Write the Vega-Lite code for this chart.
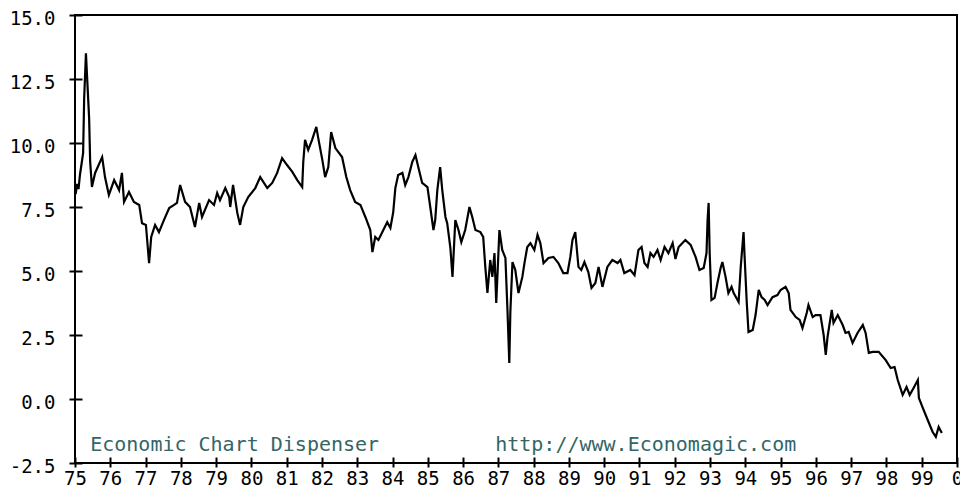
{
  "$schema": "https://vega.github.io/schema/vega-lite/v6.json",
  "width": 882,
  "height": 448,
  "autosize": {"type": "none"},
  "padding": {"left": 75, "top": 15, "right": 3, "bottom": 28},
  "background": "white",
  "config": {
    "view": {"stroke": "black", "strokeWidth": 2},
    "axis": {
      "grid": false,
      "domain": false,
      "tickColor": "black",
      "tickWidth": 2,
      "labelColor": "black",
      "labelFont": "DejaVu Sans Mono",
      "labelFontSize": 19,
      "labelOverlap": false,
      "labelSeparation": 0,
      "title": null
    }
  },
  "datasets": {
    "series": [
      {"year": 75.02, "value": 8.0}, {"year": 75.06, "value": 8.4}, {"year": 75.1, "value": 8.2},
      {"year": 75.14, "value": 8.75}, {"year": 75.23, "value": 9.6}, {"year": 75.26, "value": 11.76},
      {"year": 75.31, "value": 13.5}, {"year": 75.34, "value": 12.66}, {"year": 75.4, "value": 10.98},
      {"year": 75.43, "value": 9.26}, {"year": 75.48, "value": 8.28}, {"year": 75.57, "value": 8.83},
      {"year": 75.77, "value": 9.45}, {"year": 75.85, "value": 8.67}, {"year": 75.96, "value": 7.97},
      {"year": 76.11, "value": 8.55}, {"year": 76.25, "value": 8.16}, {"year": 76.33, "value": 8.83},
      {"year": 76.39, "value": 7.7}, {"year": 76.53, "value": 8.09}, {"year": 76.67, "value": 7.7},
      {"year": 76.82, "value": 7.58}, {"year": 76.9, "value": 6.87}, {"year": 77.01, "value": 6.8},
      {"year": 77.1, "value": 5.31}, {"year": 77.16, "value": 6.33}, {"year": 77.27, "value": 6.8},
      {"year": 77.38, "value": 6.52}, {"year": 77.52, "value": 6.99}, {"year": 77.67, "value": 7.46},
      {"year": 77.81, "value": 7.58}, {"year": 77.89, "value": 7.66}, {"year": 77.98, "value": 8.36},
      {"year": 78.12, "value": 7.7}, {"year": 78.26, "value": 7.5}, {"year": 78.4, "value": 6.72},
      {"year": 78.52, "value": 7.66}, {"year": 78.6, "value": 7.11}, {"year": 78.8, "value": 7.77},
      {"year": 78.94, "value": 7.58}, {"year": 79.03, "value": 8.05}, {"year": 79.11, "value": 7.77},
      {"year": 79.26, "value": 8.24}, {"year": 79.37, "value": 7.89}, {"year": 79.4, "value": 7.5},
      {"year": 79.48, "value": 8.36}, {"year": 79.6, "value": 7.27}, {"year": 79.68, "value": 6.8},
      {"year": 79.77, "value": 7.5}, {"year": 79.91, "value": 7.89}, {"year": 80.11, "value": 8.24},
      {"year": 80.25, "value": 8.67}, {"year": 80.45, "value": 8.24}, {"year": 80.59, "value": 8.44},
      {"year": 80.73, "value": 8.83}, {"year": 80.87, "value": 9.41}, {"year": 81.01, "value": 9.14},
      {"year": 81.16, "value": 8.87}, {"year": 81.3, "value": 8.55}, {"year": 81.44, "value": 8.28},
      {"year": 81.47, "value": 9.26}, {"year": 81.52, "value": 10.12}, {"year": 81.61, "value": 9.73},
      {"year": 81.72, "value": 10.12}, {"year": 81.84, "value": 10.63}, {"year": 81.89, "value": 10.23},
      {"year": 82.01, "value": 9.34}, {"year": 82.09, "value": 8.67}, {"year": 82.18, "value": 9.06},
      {"year": 82.26, "value": 10.43}, {"year": 82.38, "value": 9.8}, {"year": 82.57, "value": 9.45},
      {"year": 82.69, "value": 8.67}, {"year": 82.8, "value": 8.16}, {"year": 82.94, "value": 7.7},
      {"year": 83.09, "value": 7.58}, {"year": 83.23, "value": 7.11}, {"year": 83.37, "value": 6.6},
      {"year": 83.43, "value": 5.74}, {"year": 83.51, "value": 6.33}, {"year": 83.6, "value": 6.21},
      {"year": 83.74, "value": 6.6}, {"year": 83.85, "value": 6.91}, {"year": 83.94, "value": 6.68},
      {"year": 84.02, "value": 7.3}, {"year": 84.08, "value": 8.24}, {"year": 84.16, "value": 8.75},
      {"year": 84.28, "value": 8.83}, {"year": 84.36, "value": 8.36}, {"year": 84.45, "value": 8.67},
      {"year": 84.56, "value": 9.26}, {"year": 84.65, "value": 9.53}, {"year": 84.73, "value": 9.06},
      {"year": 84.84, "value": 8.44}, {"year": 84.99, "value": 8.28}, {"year": 85.07, "value": 7.5},
      {"year": 85.16, "value": 6.6}, {"year": 85.21, "value": 6.99}, {"year": 85.27, "value": 8.16},
      {"year": 85.35, "value": 9.06}, {"year": 85.41, "value": 8.16}, {"year": 85.5, "value": 7.11},
      {"year": 85.55, "value": 6.87}, {"year": 85.64, "value": 5.9}, {"year": 85.7, "value": 4.77},
      {"year": 85.78, "value": 6.99}, {"year": 85.87, "value": 6.6}, {"year": 85.95, "value": 6.13},
      {"year": 86.06, "value": 6.6}, {"year": 86.18, "value": 7.5}, {"year": 86.26, "value": 7.11},
      {"year": 86.35, "value": 6.6}, {"year": 86.49, "value": 6.52}, {"year": 86.57, "value": 6.33},
      {"year": 86.63, "value": 5.16}, {"year": 86.69, "value": 4.14}, {"year": 86.77, "value": 5.43},
      {"year": 86.83, "value": 4.77}, {"year": 86.89, "value": 5.7}, {"year": 86.94, "value": 3.75},
      {"year": 87.03, "value": 6.6}, {"year": 87.11, "value": 5.82}, {"year": 87.2, "value": 5.51},
      {"year": 87.26, "value": 3.4}, {"year": 87.31, "value": 1.41}, {"year": 87.34, "value": 3.4},
      {"year": 87.4, "value": 5.35}, {"year": 87.48, "value": 5.04}, {"year": 87.57, "value": 4.14},
      {"year": 87.68, "value": 4.77}, {"year": 87.74, "value": 5.31}, {"year": 87.82, "value": 5.94},
      {"year": 87.91, "value": 6.09}, {"year": 88.02, "value": 5.82}, {"year": 88.11, "value": 6.41},
      {"year": 88.19, "value": 6.09}, {"year": 88.28, "value": 5.31}, {"year": 88.42, "value": 5.51},
      {"year": 88.56, "value": 5.55}, {"year": 88.7, "value": 5.31}, {"year": 88.84, "value": 4.92},
      {"year": 88.96, "value": 4.92}, {"year": 89.04, "value": 5.55}, {"year": 89.1, "value": 6.21},
      {"year": 89.18, "value": 6.52}, {"year": 89.27, "value": 5.16}, {"year": 89.35, "value": 5.04},
      {"year": 89.44, "value": 5.35}, {"year": 89.55, "value": 4.96}, {"year": 89.64, "value": 4.34},
      {"year": 89.75, "value": 4.53}, {"year": 89.84, "value": 5.16}, {"year": 89.95, "value": 4.38},
      {"year": 90.09, "value": 5.16}, {"year": 90.23, "value": 5.43}, {"year": 90.38, "value": 5.31},
      {"year": 90.46, "value": 5.43}, {"year": 90.57, "value": 4.92}, {"year": 90.74, "value": 5.04},
      {"year": 90.86, "value": 4.84}, {"year": 90.97, "value": 5.82}, {"year": 91.06, "value": 5.94},
      {"year": 91.14, "value": 5.31}, {"year": 91.23, "value": 5.16}, {"year": 91.31, "value": 5.7},
      {"year": 91.4, "value": 5.55}, {"year": 91.51, "value": 5.82}, {"year": 91.6, "value": 5.43},
      {"year": 91.71, "value": 5.94}, {"year": 91.82, "value": 5.7}, {"year": 91.94, "value": 6.09},
      {"year": 92.02, "value": 5.47}, {"year": 92.11, "value": 5.94}, {"year": 92.3, "value": 6.21},
      {"year": 92.45, "value": 6.02}, {"year": 92.59, "value": 5.55}, {"year": 92.7, "value": 5.04},
      {"year": 92.82, "value": 5.12}, {"year": 92.9, "value": 5.7}, {"year": 92.93, "value": 6.99},
      {"year": 92.96, "value": 7.66}, {"year": 92.99, "value": 5.7}, {"year": 93.04, "value": 3.87},
      {"year": 93.13, "value": 3.95}, {"year": 93.21, "value": 4.53}, {"year": 93.3, "value": 5.12},
      {"year": 93.35, "value": 5.35}, {"year": 93.44, "value": 4.77}, {"year": 93.52, "value": 4.14},
      {"year": 93.61, "value": 4.38}, {"year": 93.67, "value": 4.14}, {"year": 93.81, "value": 3.79},
      {"year": 93.87, "value": 5.16}, {"year": 93.95, "value": 6.52}, {"year": 93.98, "value": 5.55},
      {"year": 94.04, "value": 3.79}, {"year": 94.09, "value": 2.62}, {"year": 94.21, "value": 2.7},
      {"year": 94.29, "value": 3.28}, {"year": 94.38, "value": 4.26}, {"year": 94.46, "value": 3.98},
      {"year": 94.55, "value": 3.87}, {"year": 94.63, "value": 3.67}, {"year": 94.77, "value": 3.98},
      {"year": 94.91, "value": 4.06}, {"year": 95.0, "value": 4.26}, {"year": 95.14, "value": 4.38},
      {"year": 95.23, "value": 4.14}, {"year": 95.28, "value": 3.48}, {"year": 95.43, "value": 3.2},
      {"year": 95.54, "value": 3.09}, {"year": 95.62, "value": 2.77}, {"year": 95.74, "value": 3.36},
      {"year": 95.79, "value": 3.67}, {"year": 95.91, "value": 3.2}, {"year": 95.99, "value": 3.28},
      {"year": 96.13, "value": 3.28}, {"year": 96.22, "value": 2.5}, {"year": 96.28, "value": 1.72},
      {"year": 96.33, "value": 2.42}, {"year": 96.45, "value": 3.48}, {"year": 96.5, "value": 2.97},
      {"year": 96.62, "value": 3.28}, {"year": 96.76, "value": 2.89}, {"year": 96.84, "value": 2.58},
      {"year": 96.93, "value": 2.62}, {"year": 97.04, "value": 2.19}, {"year": 97.18, "value": 2.58},
      {"year": 97.33, "value": 2.89}, {"year": 97.41, "value": 2.58}, {"year": 97.5, "value": 1.8},
      {"year": 97.61, "value": 1.84}, {"year": 97.78, "value": 1.84}, {"year": 97.98, "value": 1.52},
      {"year": 98.12, "value": 1.21}, {"year": 98.23, "value": 1.25}, {"year": 98.32, "value": 0.74},
      {"year": 98.46, "value": 0.16}, {"year": 98.57, "value": 0.47}, {"year": 98.66, "value": 0.16},
      {"year": 98.77, "value": 0.43}, {"year": 98.89, "value": 0.74}, {"year": 98.92, "value": 0.04},
      {"year": 99.03, "value": -0.35}, {"year": 99.17, "value": -0.82}, {"year": 99.31, "value": -1.29},
      {"year": 99.4, "value": -1.48}, {"year": 99.48, "value": -1.09}, {"year": 99.57, "value": -1.33}
    ],
    "notes": [
      {"label": "Economic Chart Dispenser", "year": 75.43, "value": -1.8},
      {"label": "http://www.Economagic.com", "year": 86.91, "value": -1.8}
    ]
  },
  "layer": [
    {
      "data": {"name": "series"},
      "mark": {"type": "line", "color": "black", "strokeWidth": 2.2, "clip": true},
      "encoding": {
        "x": {
          "field": "year",
          "type": "quantitative",
          "scale": {"domain": [75, 100], "nice": false, "zero": false},
          "axis": {
            "values": [75, 76, 77, 78, 79, 80, 81, 82, 83, 84, 85, 86, 87, 88, 89, 90, 91, 92, 93, 94, 95, 96, 97, 98, 99, 100],
            "tickCount": 40,
            "labelExpr": "'' + (datum.value % 100)",
            "offset": -6,
            "tickSize": 10,
            "labelPadding": 2,
            "labelFlush": false,
            "labelOverlap": false,
            "labelBound": false
          }
        },
        "y": {
          "field": "value",
          "type": "quantitative",
          "scale": {"domain": [-2.5, 15], "nice": false, "zero": false},
          "axis": {
            "values": [-2.5, 0, 2.5, 5, 7.5, 10, 12.5, 15],
            "tickCount": 20,
            "labelExpr": "replace(format(datum.value, '.1f'), '−', '-')",
            "offset": -7,
            "tickSize": 13,
            "labelPadding": 14,
            "labelOffset": 3,
            "labelFlush": false,
            "labelOverlap": false
          }
        }
      }
    },
    {
      "data": {"name": "notes"},
      "mark": {
        "type": "text",
        "align": "left",
        "baseline": "middle",
        "font": "DejaVu Sans Mono",
        "fontSize": 20,
        "color": "#336666"
      },
      "encoding": {
        "x": {"field": "year", "type": "quantitative"},
        "y": {"field": "value", "type": "quantitative"},
        "text": {"field": "label"}
      }
    }
  ]
}
